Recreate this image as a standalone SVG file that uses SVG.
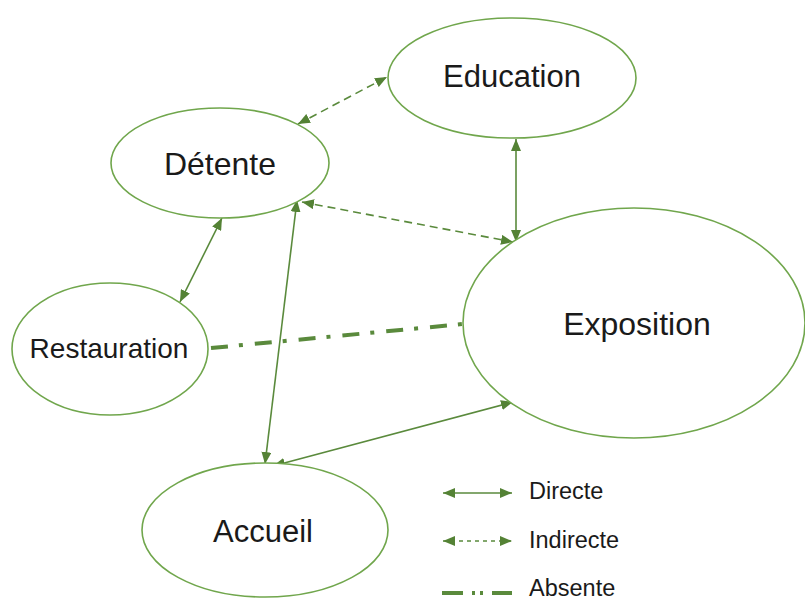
<svg xmlns="http://www.w3.org/2000/svg" width="805" height="601" viewBox="0 0 805 601">
<style>
.node{fill:#fff;stroke:#70a64c;stroke-width:1.6}
.lbl{font-family:"Liberation Sans",Arial,sans-serif;fill:#1a1a1a;text-anchor:middle}
.leg{font-family:"Liberation Sans",Arial,sans-serif;fill:#1a1a1a;font-size:23.5px}
.c{fill:none;stroke:#5a8a3c;stroke-width:1.6}
.d{stroke-dasharray:8 5}
.a{marker-start:url(#ah);marker-end:url(#ah)}
.x{fill:none;stroke:#5a8a3c;stroke-width:4;stroke-dasharray:17 11 4 12}
</style>
<defs>
<marker id="ah" viewBox="0 0 12 10" refX="12" refY="5" markerWidth="12" markerHeight="10" markerUnits="userSpaceOnUse" orient="auto-start-reverse">
<path d="M0,0 L12,5 L0,10 z" fill="#548235"/>
</marker>
</defs>
<rect width="805" height="601" fill="#fff"/>
<g id="connectors">
<line class="c d a" x1="298" y1="124" x2="387" y2="77"/>
<line class="c a" x1="516" y1="139" x2="516" y2="242"/>
<line class="c d a" x1="302" y1="202" x2="513" y2="242"/>
<line class="c a" x1="222" y1="218" x2="180" y2="302"/>
<line class="c a" x1="297" y1="200" x2="265" y2="464"/>
<line class="c a" x1="273" y1="466" x2="513" y2="402"/>
<line class="x" x1="211" y1="348" x2="463" y2="324"/>
</g>
<g id="node-education"><ellipse class="node" cx="512" cy="78" rx="124" ry="60"/><text class="lbl" x="512" y="87" font-size="31">Education</text></g>
<g id="node-detente"><ellipse class="node" cx="220" cy="163" rx="109" ry="55"/><text class="lbl" x="220" y="175" font-size="32">Détente</text></g>
<g id="node-restauration"><ellipse class="node" cx="110" cy="349" rx="98" ry="66"/><text class="lbl" x="109" y="358" font-size="28">Restauration</text></g>
<g id="node-exposition"><ellipse class="node" cx="634" cy="323" rx="171" ry="115"/><text class="lbl" x="637" y="335" font-size="32">Exposition</text></g>
<g id="node-accueil"><ellipse class="node" cx="265" cy="530" rx="123" ry="67"/><text class="lbl" x="263" y="542" font-size="31">Accueil</text></g>
<g id="legend">
<line class="c a" x1="443" y1="493" x2="512" y2="493"/>
<text class="leg" x="529" y="499">Directe</text>
<line class="c a" x1="443" y1="541" x2="512" y2="541" stroke-dasharray="4 4"/>
<text class="leg" x="529" y="548">Indirecte</text>
<path d="M442,593 H463 M472,593 H475 M480,593 H483 M492,593 H512" fill="none" stroke="#5a8a3c" stroke-width="4"/>
<text class="leg" x="529" y="596">Absente</text>
</g>
</svg>
